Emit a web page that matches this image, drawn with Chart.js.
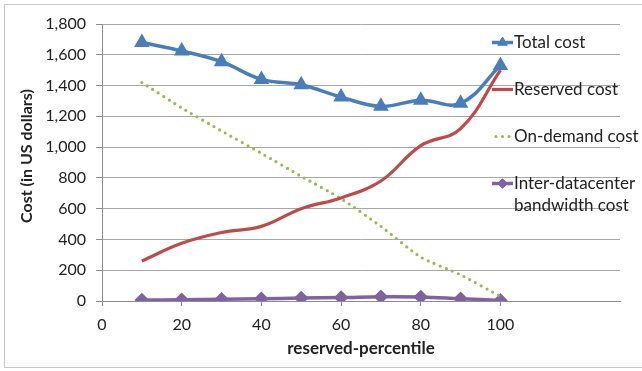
<!DOCTYPE html>
<html>
<head>
<meta charset="utf-8">
<title>Cost vs reserved-percentile</title>
<script src="https://cdn.jsdelivr.net/npm/chart.js@4/dist/chart.umd.min.js"></script>
<style>
  html, body { margin: 0; padding: 0; background: #ffffff; }
  #wrap { position: relative; width: 642px; height: 371px; overflow: hidden; }
  #frame { position: absolute; left: 4px; top: 4px; width: 660px; height: 364px;
           border: 1.5px solid #c9c9c9; box-sizing: border-box; pointer-events: none; }
  canvas { position: absolute; left: 0; top: 0; }
</style>
</head>
<body>
<div id="wrap">
  <canvas id="chart" width="642" height="371"></canvas>
  <div id="frame"></div>
</div>
<script>
// reserved-percentile values on the x axis
const percentiles = [10, 20, 30, 40, 50, 60, 70, 80, 90, 100];

// cost series (US dollars)
const totalCost     = [1680, 1625, 1555, 1440, 1405, 1325, 1265, 1305, 1285, 1530];
const reservedCost  = [260, 375, 445, 485, 600, 670, 780, 1010, 1120, 1500];
const onDemandCost  = [1420, 1255, 1105, 960, 810, 665, 485, 285, 170, 30];
const bandwidthCost = [6, 8, 12, 15, 19, 22, 28, 26, 15, 4];

// series names (multi-line names wrap in the legend)
const seriesNames = [
  ['Total cost'],
  ['Reserved cost'],
  ['On-demand cost'],
  ['Inter-datacenter', 'bandwidth cost']
];

// axis ranges and tick steps
const xTickMax = 120, xAxisMax = 130, xStep = 20;
const yMax = 1800, yStep = 200;

const FONT = 'Lato, "Open Sans", "DejaVu Sans", sans-serif';
const TEXT = '#222222';

const toPoints = vals => vals.map((v, i) => ({ x: percentiles[i], y: v }));

// legend and y-axis title drawn onto the canvas after the chart
const extras = {
  id: 'extras',
  afterDraw(chart) {
    const ctx = chart.ctx;
    ctx.save();
    // y axis title
    ctx.translate(27, 156);
    ctx.rotate(-Math.PI / 2);
    ctx.font = 'bold 16px ' + FONT;
    ctx.fillStyle = TEXT;
    ctx.textAlign = 'center';
    ctx.textBaseline = 'middle';
    ctx.fillText('Cost (in US dollars)', 0, 0);
    ctx.restore();

    // legend
    const x0 = 492, x1 = 513, tx = 514;
    chart.data.datasets.forEach((ds, i) => {
      const y = 42.5 + 47 * i;
      ctx.save();
      ctx.strokeStyle = ds.borderColor;
      ctx.lineWidth = ds.borderWidth;
      ctx.lineCap = ds.borderCapStyle || 'butt';
      ctx.setLineDash(ds.borderDash || []);
      ctx.beginPath();
      ctx.moveTo(ds.borderDash ? x0 + 4 : x0, y);
      ctx.lineTo(x1, y);
      ctx.stroke();
      ctx.setLineDash([]);
      if (ds.pointRadius > 0) {
        ctx.fillStyle = ds.pointBackgroundColor;
        ctx.strokeStyle = ds.pointBorderColor;
        ctx.lineWidth = 1;
        Chart.helpers.drawPoint(ctx, { pointStyle: ds.pointStyle, radius: ds.pointRadius, rotation: 0, borderWidth: 1 }, (x0 + x1) / 2, y);
      }
      ctx.font = '17px ' + FONT;
      ctx.fillStyle = TEXT;
      ctx.textAlign = 'left';
      ctx.textBaseline = 'middle';
      seriesNames[i].forEach((line, k) => ctx.fillText(line, tx, y + k * 22.5));
      ctx.restore();
    });
  }
};

new Chart(document.getElementById('chart'), {
  type: 'line',
  data: {
    datasets: [
      {
        label: seriesNames[0].join(' '),
        data: toPoints(totalCost),
        borderColor: '#4a7ebb', borderWidth: 3.5,
        pointStyle: 'triangle', pointRadius: 5.5,
        pointBackgroundColor: '#4a7ebb', pointBorderColor: '#4a7ebb',
        tension: 0.4
      },
      {
        label: seriesNames[1].join(' '),
        data: toPoints(reservedCost),
        borderColor: '#be4b48', borderWidth: 3.2,
        pointRadius: 0,
        tension: 0.4
      },
      {
        label: seriesNames[2].join(' '),
        data: toPoints(onDemandCost),
        borderColor: '#98b954', borderWidth: 3.2,
        borderDash: [0, 6.5], borderCapStyle: 'round',
        pointRadius: 0,
        tension: 0.2
      },
      {
        label: seriesNames[3].join(' '),
        data: toPoints(bandwidthCost),
        borderColor: '#7e62a1', borderWidth: 3.5,
        pointStyle: 'rectRot', pointRadius: 4.8,
        pointBackgroundColor: '#7e62a1', pointBorderColor: '#7e62a1',
        tension: 0.4
      }
    ]
  },
  options: {
    responsive: false,
    animation: false,
    devicePixelRatio: 1,
    layout: { padding: { left: 0, top: 24, right: 22, bottom: 0 } },
    plugins: { legend: { display: false }, tooltip: { enabled: false } },
    scales: {
      x: {
        type: 'linear',
        min: 0, max: xAxisMax,
        afterBuildTicks: s => { s.ticks = s.ticks.filter(t => t.value <= xTickMax); },
        afterFit: s => { s.height = 70; },
        ticks: { stepSize: xStep, color: TEXT, font: { family: FONT, size: 16 }, padding: 9, maxRotation: 0 },
        grid: { drawOnChartArea: false, drawTicks: true, tickLength: 5, tickColor: '#8c8c8c', tickWidth: 1 },
        border: { display: true, color: '#8c8c8c', width: 1 },
        title: {
          display: true, text: 'reserved-percentile', color: TEXT,
          font: { family: FONT, size: 17, weight: 'bold' },
          padding: { top: 0, bottom: 12 }
        }
      },
      y: {
        type: 'linear',
        min: 0, max: yMax,
        afterFit: s => { s.width = 102; },
        ticks: {
          stepSize: yStep, color: TEXT, font: { family: FONT, size: 16 }, padding: 10,
          callback: v => v.toLocaleString('en-US')
        },
        grid: {
          color: '#a8a8a8', lineWidth: 1, borderDash: [2, 2],
          drawTicks: true, tickLength: 6, tickColor: '#8c8c8c', tickWidth: 1, tickBorderDash: []
        },
        border: { display: true, color: '#8c8c8c', width: 1 }
      }
    }
  },
  plugins: [extras]
});
</script>
</body>
</html>
